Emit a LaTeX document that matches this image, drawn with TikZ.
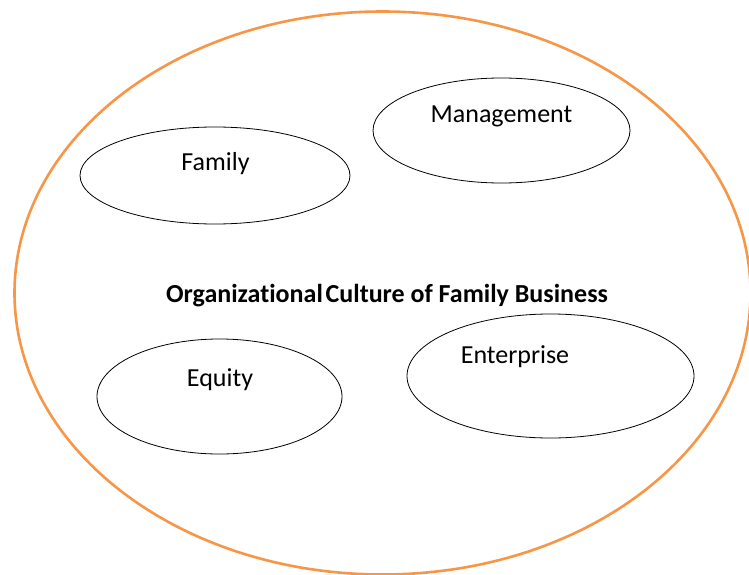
\documentclass[tikz,border=0pt]{standalone}
\usepackage{fontspec}
\setmainfont[Ligatures=NoCommon]{Carlito}
\usetikzlibrary{shapes.geometric}
\definecolor{accorange}{HTML}{F79646}
\tikzset{
  ring/.style={ellipse, draw=black, line width=0.8pt, inner sep=0pt},
  outerring/.style={ellipse, draw=accorange, line width=2.6pt, inner sep=0pt},
  lbl/.style={anchor=base, inner sep=0pt, font=\fontsize{26}{30}\selectfont},
  titlelbl/.style={anchor=base, inner sep=0pt, font=\fontsize{26}{30}\selectfont\bfseries},
}
\begin{document}
\begin{tikzpicture}[x=1pt,y=-1pt]
\useasboundingbox (0,0) rectangle (749,575);
\node[outerring, minimum width=736pt, minimum height=563pt] (outer) at (382.5,293) {};
\node[ring, minimum width=257pt, minimum height=105pt] (mgmt) at (501.5,130.5) {};
\node[ring, minimum width=270pt, minimum height=97pt] (fam) at (215,175.5) {};
\node[ring, minimum width=245pt, minimum height=115pt] (eq) at (219.5,396.5) {};
\node[ring, minimum width=287pt, minimum height=124pt] (ent) at (550.5,376) {};
\node[lbl] (mgmtlbl) at (501.5,123) {Management};
\node[lbl] (famlbl) at (215.5,170) {Family};
\node[lbl] (eqlbl) at (220,386) {Equity};
\node[lbl] (entlbl) at (515,363) {Enterprise};
\node[titlelbl] (title) at (387,302) {Organizational\hspace{-0.12em} Culture of Family Business};
\end{tikzpicture}
\end{document}
